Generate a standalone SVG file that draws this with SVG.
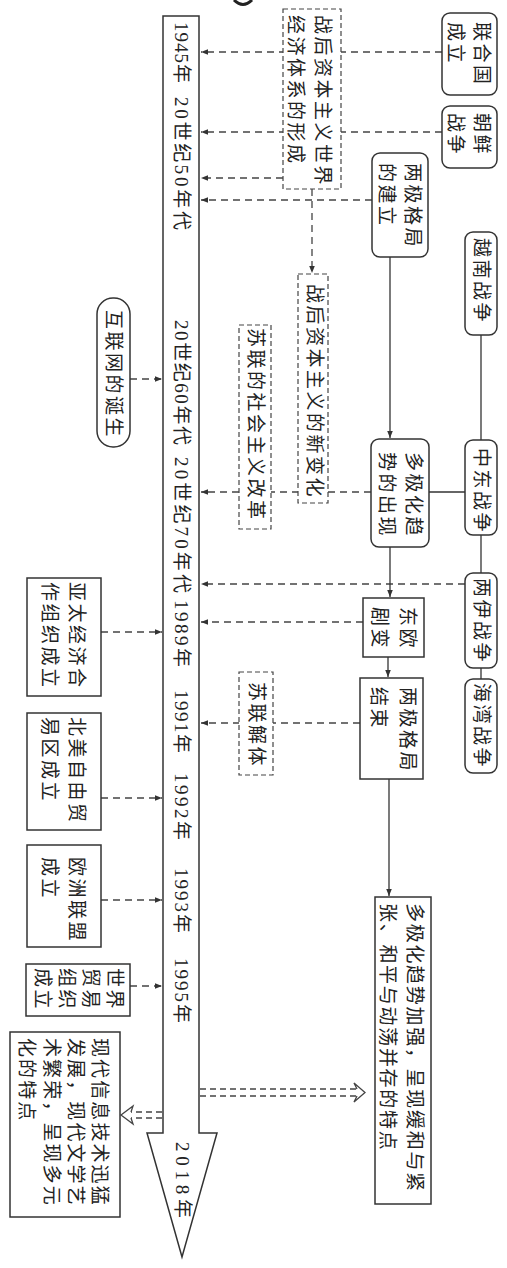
<svg xmlns="http://www.w3.org/2000/svg" width="507" height="1268" viewBox="0 0 507 1268">
<style>
.n{fill:#fff;stroke:#333;stroke-width:1.5}
.d{fill:#fff;stroke:#444;stroke-width:1.2;stroke-dasharray:5 3}
.c{fill:none;stroke:#333;stroke-width:1.3}
.dc{fill:none;stroke:#444;stroke-width:1.3;stroke-dasharray:7 5}
.h{fill:none;stroke:#444;stroke-width:1.3}
.t{font-family:"Liberation Serif","Noto Sans CJK SC",serif;font-size:19px;letter-spacing:2.5px;fill:#222;dominant-baseline:central}
.tl{font-family:"Liberation Serif","Noto Sans CJK SC",serif;font-size:19px;fill:#222;dominant-baseline:central}
</style>
<defs>
<marker id="ah" viewBox="0 0 10 10" refX="10" refY="5" markerWidth="7" markerHeight="7" markerUnits="userSpaceOnUse" orient="auto">
<path d="M0,1 L10,5 L0,9 Z" fill="#333"/>
</marker>
</defs>
<rect width="507" height="1268" fill="#fff"/>
<path d="M234,0 Q243,9 252,0" fill="none" stroke="#222" stroke-width="3"/>

<g id="connectors">
<path class="dc" d="M442,52 H201" marker-end="url(#ah)"/>
<path class="dc" d="M442,132 H201" marker-end="url(#ah)"/>
<path class="dc" d="M283,178 H201" marker-end="url(#ah)"/>
<path class="dc" d="M372,200 H201" marker-end="url(#ah)"/>
<path class="dc" d="M312,189 V273" marker-end="url(#ah)"/>
<path class="dc" d="M371,492 H201" marker-end="url(#ah)"/>
<path class="dc" d="M465,584 H201" marker-end="url(#ah)"/>
<path class="dc" d="M363,622 H201" marker-end="url(#ah)"/>
<path class="dc" d="M360,723 H201" marker-end="url(#ah)"/>
<path class="dc" d="M130,379 H162" marker-end="url(#ah)"/>
<path class="dc" d="M101,632 H162" marker-end="url(#ah)"/>
<path class="dc" d="M101,798 H162" marker-end="url(#ah)"/>
<path class="dc" d="M101,900 H162" marker-end="url(#ah)"/>
<path class="dc" d="M130,986 H162" marker-end="url(#ah)"/>
<path class="c" d="M390,257 V438" marker-end="url(#ah)"/>
<path class="c" d="M481,335 V440"/>
<path class="c" d="M465,492 H429"/>
<path class="c" d="M481,535 V573"/>
<path class="c" d="M390,547 V597" marker-end="url(#ah)"/>
<path class="c" d="M388,657 V677" marker-end="url(#ah)"/>
<path class="c" d="M481,668 V679"/>
<path class="c" d="M389,779 V896" marker-end="url(#ah)"/>
<path class="dc" style="stroke-dasharray:6 4" d="M200,1089 H357 M200,1096 H357"/>
<polyline class="h" points="357,1089 354,1083 365,1092.5 354,1102 357,1096"/>
<path class="dc" style="stroke-dasharray:6 4" d="M162,1112 H131 M162,1118 H131"/>
<polyline class="h" points="131,1112 133,1106 121,1115 133,1124 131,1118"/>
</g>

<g id="timeline">
<path class="n" d="M163,16 H199 V1133 H217 L182,1257 L147,1133 H163 Z"/>
<text class="tl" transform="translate(181,22) rotate(90)" textLength="61" lengthAdjust="spacing">1945年</text>
<text class="tl" transform="translate(181,97) rotate(90)" textLength="133" lengthAdjust="spacing">20世纪50年代</text>
<text class="tl" transform="translate(181,320) rotate(90)" textLength="125" lengthAdjust="spacing">20世纪60年代</text>
<text class="tl" transform="translate(181,457) rotate(90)" textLength="136" lengthAdjust="spacing">20世纪70年代</text>
<text class="tl" transform="translate(181,600) rotate(90)" textLength="67" lengthAdjust="spacing">1989年</text>
<text class="tl" transform="translate(181,690) rotate(90)" textLength="63" lengthAdjust="spacing">1991年</text>
<text class="tl" transform="translate(181,773) rotate(90)" textLength="67" lengthAdjust="spacing">1992年</text>
<text class="tl" transform="translate(181,868) rotate(90)" textLength="65" lengthAdjust="spacing">1993年</text>
<text class="tl" transform="translate(181,958) rotate(90)" textLength="65" lengthAdjust="spacing">1995年</text>
<text class="tl" transform="translate(182,1142) rotate(90)" textLength="76" lengthAdjust="spacing">2018年</text>
</g>

<g id="n-lianheguo">
<rect class="n" x="442" y="13" width="55" height="82" rx="8"/>
<text class="t" transform="translate(482,22) rotate(90)"><tspan x="0" y="0">联合国</tspan><tspan x="0" y="26">成立</tspan></text>
</g>
<g id="n-chaoxian">
<rect class="n" x="442" y="106" width="55" height="62" rx="8"/>
<text class="t" transform="translate(482,113) rotate(90)"><tspan x="0" y="0">朝鲜</tspan><tspan x="0" y="26">战争</tspan></text>
</g>
<g id="n-liangji-jianli">
<rect class="n" x="372" y="153" width="56" height="104" rx="8"/>
<text class="t" transform="translate(413,163) rotate(90)"><tspan x="0" y="0">两极格局</tspan><tspan x="0" y="26">的建立</tspan></text>
</g>
<g id="n-yuenan">
<rect class="n" x="465" y="232" width="32" height="103" rx="8"/>
<text class="t" transform="translate(481,238) rotate(90)">越南战争</text>
</g>
<g id="n-zhongdong">
<rect class="n" x="465" y="440" width="32" height="95" rx="8"/>
<text class="t" transform="translate(481,448) rotate(90)">中东战争</text>
</g>
<g id="n-duoji-chuxian">
<rect class="n" x="371" y="439" width="58" height="108" rx="8"/>
<text class="t" transform="translate(414,452) rotate(90)"><tspan x="0" y="0">多极化趋</tspan><tspan x="0" y="27">势的出现</tspan></text>
</g>
<g id="n-liangyi">
<rect class="n" x="465" y="573" width="32" height="95" rx="8"/>
<text class="t" transform="translate(481,578) rotate(90)">两伊战争</text>
</g>
<g id="n-haiwan">
<rect class="n" x="465" y="679" width="32" height="94" rx="8"/>
<text class="t" transform="translate(481,683) rotate(90)">海湾战争</text>
</g>
<g id="n-dongou">
<rect class="n" x="363" y="598" width="61" height="59"/>
<text class="t" transform="translate(408,607) rotate(90)"><tspan x="0" y="0">东欧</tspan><tspan x="0" y="28">剧变</tspan></text>
</g>
<g id="n-liangji-jieshu">
<rect class="n" x="360" y="678" width="63" height="101"/>
<text class="t" transform="translate(408,687) rotate(90)"><tspan x="0" y="0">两极格局</tspan><tspan x="0" y="29">结束</tspan></text>
</g>
<g id="n-duoji-jiaqiang">
<rect class="n" x="375" y="897" width="56" height="307"/>
<text class="t" style="letter-spacing:1.7px" transform="translate(415,903) rotate(90)"><tspan x="0" y="0">多极化趋势加强，呈现缓和与紧</tspan><tspan x="0" y="27">张、和平与动荡并存的特点</tspan></text>
</g>

<g id="d-jingji-tixi">
<rect class="d" x="283" y="9" width="58" height="180"/>
<text class="t" transform="translate(323,15) rotate(90)"><tspan x="0" y="0">战后资本主义世界</tspan><tspan x="0" y="27">经济体系的形成</tspan></text>
</g>
<g id="d-xin-bianhua">
<rect class="d" x="298" y="274" width="30" height="229"/>
<text class="t" transform="translate(314,284) rotate(90)">战后资本主义的新变化</text>
</g>
<g id="d-sulian-gaige">
<rect class="d" x="239" y="325" width="32" height="204"/>
<text class="t" transform="translate(255,328) rotate(90)">苏联的社会主义改革</text>
</g>
<g id="d-sulian-jieti">
<rect class="d" x="239" y="672" width="34" height="103"/>
<text class="t" transform="translate(256,682) rotate(90)">苏联解体</text>
</g>

<g id="n-hulianwang">
<rect class="n" x="97" y="298" width="33" height="149" rx="16"/>
<text class="t" transform="translate(113,310) rotate(90)">互联网的诞生</text>
</g>
<g id="n-yatai">
<rect class="n" x="27" y="578" width="74" height="118"/>
<text class="t" transform="translate(77,582) rotate(90)"><tspan x="0" y="0">亚太经济合</tspan><tspan x="0" y="27">作组织成立</tspan></text>
</g>
<g id="n-beimei">
<rect class="n" x="27" y="713" width="74" height="117"/>
<text class="t" transform="translate(77,717) rotate(90)"><tspan x="0" y="0">北美自由贸</tspan><tspan x="0" y="27">易区成立</tspan></text>
</g>
<g id="n-oumeng">
<rect class="n" x="27" y="845" width="74" height="102"/>
<text class="t" transform="translate(77,857) rotate(90)"><tspan x="0" y="0">欧洲联盟</tspan><tspan x="0" y="27">成立</tspan></text>
</g>
<g id="n-shimao">
<rect class="n" x="26" y="964" width="104" height="52"/>
<text class="t" transform="translate(115,968) rotate(90)"><tspan x="0" y="0">世界</tspan><tspan x="0" y="24">贸易</tspan><tspan x="0" y="48">组织</tspan><tspan x="0" y="72">成立</tspan></text>
</g>
<g id="n-xiandai">
<rect class="n" x="10" y="1032" width="110" height="185"/>
<text class="t" style="letter-spacing:2.1px" transform="translate(100,1038) rotate(90)"><tspan x="0" y="0">现代信息技术迅猛</tspan><tspan x="0" y="24">发展，现代文学艺</tspan><tspan x="0" y="48">术繁荣，呈现多元</tspan><tspan x="0" y="73">化的特点</tspan></text>
</g>
</svg>
